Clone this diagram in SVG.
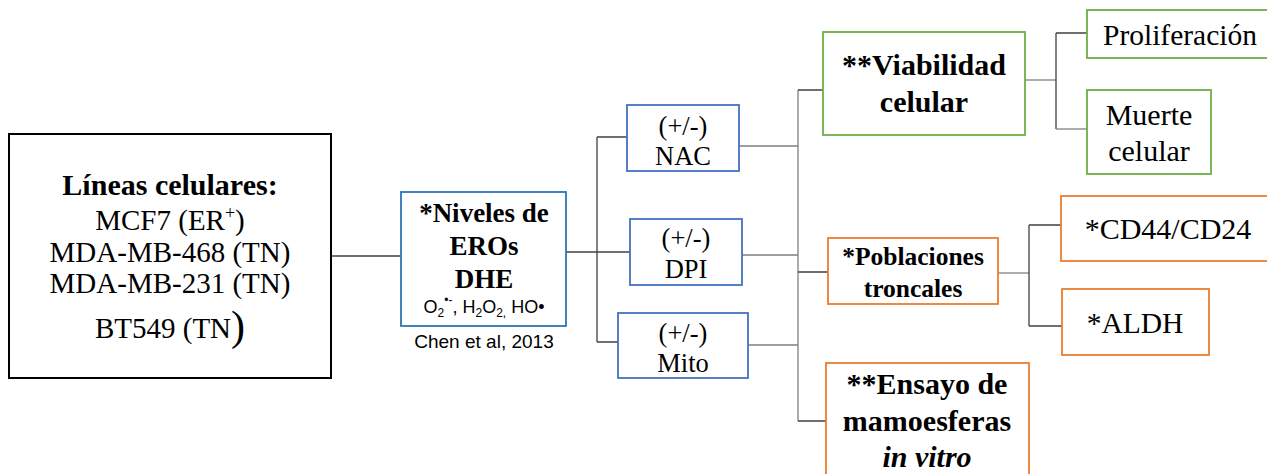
<svg xmlns="http://www.w3.org/2000/svg" width="1267" height="474" viewBox="0 0 1267 474">
<style>
.t{font-family:"Liberation Serif","Times New Roman",serif;fill:#000;text-anchor:middle}
.b{font-weight:bold}
.s{font-family:"Liberation Sans",Arial,sans-serif;fill:#000;text-anchor:middle}
.blk{fill:#fff;stroke:#000;stroke-width:2}
.blu{fill:#fff;stroke:#4472C4;stroke-width:1.8}
.blu2{fill:#fff;stroke:#2E75B6;stroke-width:1.8}
.grn{fill:#fff;stroke:#70AD47;stroke-width:1.8}
.org{fill:#fff;stroke:#ED7D31;stroke-width:1.8}
.c{fill:none;stroke:#404040;stroke-width:1.3}
.g{fill:none;stroke:#808080;stroke-width:1.3}
</style>
<rect width="1267" height="474" fill="#fff"/>
<g id="connectors">
<path class="c" d="M331 256H402"/>
<path class="c" d="M566 252H630"/>
<path class="c" d="M597 137V342M597 137H627M597 342H618"/>
<path class="g" d="M739 146H798M742 255H798M748 345H798"/>
<path class="g" d="M798 90V421"/>
<path class="c" d="M798 90H823M798 272H828M798 421H826"/>
<path class="g" d="M1025 80H1056"/>
<path class="c" d="M1056 33V129M1056 33H1087"/>
<path class="g" d="M1056 129H1087"/>
<path class="g" d="M998 273H1029"/>
<path class="c" d="M1029 225V326M1029 225H1061M1029 326H1062"/>
</g>
<g id="lineas">
<rect class="blk" x="9" y="134" width="322" height="244"/>
<text class="t b" x="170" y="195" font-size="30">Líneas celulares:</text>
<text class="t" x="170" y="230" font-size="29">MCF7 (ER<tspan font-size="18" dy="-11">+</tspan><tspan dy="11">)</tspan></text>
<text class="t" x="170" y="262" font-size="29">MDA-MB-468 (TN)</text>
<text class="t" x="170" y="293" font-size="29">MDA-MB-231 (TN)</text>
<text class="t" x="170" y="338" font-size="29">BT549 (TN<tspan font-size="42" dy="2">)</tspan></text>
</g>
<g id="niveles">
<rect class="blu2" x="401" y="192" width="165" height="134"/>
<text class="t b" x="484" y="222" font-size="27">*Niveles de</text>
<text class="t b" x="484" y="255" font-size="27">EROs</text>
<text class="t b" x="484" y="288" font-size="27">DHE</text>
<text class="s" x="484" y="313" font-size="18">O<tspan font-size="12" dy="4">2</tspan><tspan font-size="12" dy="-13">•-</tspan><tspan dy="9">, H</tspan><tspan font-size="12" dy="4">2</tspan><tspan dy="-4">O</tspan><tspan font-size="12" dy="4">2,</tspan><tspan dy="-4"> HO•</tspan></text>
<text class="s" x="484" y="348" font-size="19">Chen et al, 2013</text>
</g>
<g id="nac">
<rect class="blu" x="627" y="105" width="112" height="66"/>
<text class="t" x="683" y="135" font-size="26.5">(+/-)</text>
<text class="t" x="683" y="165" font-size="26.5">NAC</text>
</g>
<g id="dpi">
<rect class="blu" x="630" y="219" width="112" height="66"/>
<text class="t" x="686" y="247" font-size="26.5">(+/-)</text>
<text class="t" x="686" y="278" font-size="26.5">DPI</text>
</g>
<g id="mito">
<rect class="blu" x="618" y="313" width="130" height="65"/>
<text class="t" x="683" y="342" font-size="26.5">(+/-)</text>
<text class="t" x="683" y="372" font-size="26.5">Mito</text>
</g>
<g id="viabilidad">
<rect class="grn" x="823" y="32" width="202" height="103"/>
<text class="t b" x="924" y="75" font-size="30">**Viabilidad</text>
<text class="t b" x="924" y="112" font-size="30">celular</text>
</g>
<g id="proliferacion">
<rect class="grn" x="1087" y="10" width="182" height="48"/>
<text class="t" x="1180" y="45" font-size="29.5">Proliferación</text>
</g>
<g id="muerte">
<rect class="grn" x="1087" y="90" width="124" height="84"/>
<text class="t" x="1149" y="125" font-size="30">Muerte</text>
<text class="t" x="1149" y="161" font-size="30">celular</text>
</g>
<g id="poblaciones">
<rect class="org" x="828" y="238" width="170" height="66"/>
<text class="t b" x="913" y="265" font-size="25.5">*Poblaciones</text>
<text class="t b" x="913" y="297" font-size="25.5">troncales</text>
</g>
<g id="cd44">
<rect class="org" x="1061" y="196" width="208" height="65"/>
<text class="t" x="1168" y="239" font-size="30">*CD44/CD24</text>
</g>
<g id="aldh">
<rect class="org" x="1062" y="289" width="147" height="66"/>
<text class="t" x="1135" y="333" font-size="29.5">*ALDH</text>
</g>
<g id="ensayo">
<rect class="org" x="826" y="363" width="203" height="120"/>
<text class="t b" x="927" y="394" font-size="30">**Ensayo de</text>
<text class="t b" x="927" y="431" font-size="30">mamoesferas</text>
<text class="t b" x="927" y="467" font-size="30" font-style="italic">in vitro</text>
</g>
</svg>
